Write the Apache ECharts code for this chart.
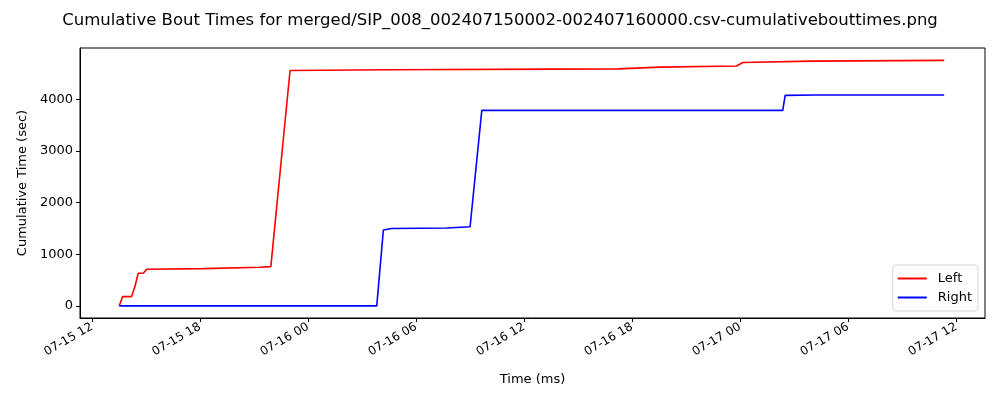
<!DOCTYPE html>
<html>
<head>
<meta charset="utf-8">
<script src="https://cdn.jsdelivr.net/npm/echarts@6/dist/echarts.min.js"></script>
<style>
    html, body { margin: 0; padding: 0; background: #fff; }
    #chart { width: 1000px; height: 400px; }
</style>
</head>
<body>
<div id="chart"></div>
<script>
// cumulative bout times
var leftTimes = ['2024-07-15 13:31', '2024-07-15 13:42', '2024-07-15 14:12', '2024-07-15 14:23', '2024-07-15 14:34',
    '2024-07-15 14:51', '2024-07-15 15:02', '2024-07-15 18:11', '2024-07-15 21:20', '2024-07-15 21:56',
    '2024-07-15 23:00', '2024-07-16 04:34', '2024-07-16 13:26', '2024-07-16 17:12', '2024-07-16 19:34',
    '2024-07-16 23:48', '2024-07-17 00:09', '2024-07-17 03:54', '2024-07-17 11:20'];
var leftValues = [0, 180, 180, 373, 632, 632, 709, 721, 747, 760,
    4560, 4575, 4585, 4590, 4625, 4645, 4715, 4740, 4755];

var rightTimes = ['2024-07-15 13:31', '2024-07-16 03:49', '2024-07-16 04:11', '2024-07-16 04:39', '2024-07-16 07:42',
    '2024-07-16 09:00', '2024-07-16 09:39', '2024-07-17 02:22', '2024-07-17 02:30', '2024-07-17 04:10',
    '2024-07-17 11:20'];
var rightValues = [0, 0, 1470, 1500, 1507, 1532, 3787, 3787, 4077, 4085, 4085];

var xTicks = ['2024-07-15 12:00', '2024-07-15 18:00', '2024-07-16 00:00', '2024-07-16 06:00', '2024-07-16 12:00',
    '2024-07-16 18:00', '2024-07-17 00:00', '2024-07-17 06:00', '2024-07-17 12:00'];
var xTickLabels = ['07-15 12', '07-15 18', '07-16 00', '07-16 06', '07-16 12',
    '07-16 18', '07-17 00', '07-17 06', '07-17 12'];
var yTicks = [0, 1000, 2000, 3000, 4000];

var FONT = 'DejaVu Sans';

function toMs(s) {
    return +echarts.time.parse(s);
}
function pairs(times, values) {
    var out = [];
    for (var i = 0; i < times.length; i++) {
        out.push([toMs(times[i]), values[i]]);
    }
    return out;
}

var tickMs = xTicks.map(toMs);
var labelMap = {};
tickMs.forEach(function (t, i) { labelMap[t] = xTickLabels[i]; });

var myChart = echarts.init(document.getElementById('chart'));
var option = {
    animation: false,
    backgroundColor: '#fff',
    textStyle: { fontFamily: FONT },
    title: {
        text: 'Cumulative Bout Times for merged/SIP_008_002407150002-002407160000.csv-cumulativebouttimes.png',
        left: 'center',
        top: 7,
        textStyle: { fontFamily: FONT, fontSize: 16.5, fontWeight: 'normal', color: '#000' }
    },
    grid: {
        left: 80, right: 15, top: 48, bottom: 82,
        show: true, borderColor: '#000', borderWidth: 1
    },
    legend: {
        orient: 'vertical',
        right: 22,
        bottom: 89,
        data: ['Left', 'Right'],
        icon: 'rect',
        itemWidth: 29,
        itemHeight: 2,
        itemGap: 6,
        padding: [7, 6, 7, 5],
        borderColor: '#d6d6d6',
        borderWidth: 1,
        borderRadius: 3,
        backgroundColor: 'rgba(255,255,255,0.8)',
        textStyle: { fontFamily: FONT, fontSize: 13, color: '#000', padding: [0, 0, 0, 6] }
    },
    xAxis: {
        type: 'value',
        min: toMs('2024-07-15 11:20'),
        max: toMs('2024-07-17 13:36'),
        name: 'Time (ms)',
        nameLocation: 'middle',
        nameGap: 55,
        nameTextStyle: { fontFamily: FONT, fontSize: 13, color: '#000' },
        splitLine: { show: false },
        axisLine: { show: true, onZero: false, lineStyle: { color: '#000', width: 1 } },
        axisTick: { show: true, length: 4, customValues: tickMs, lineStyle: { color: '#000' } },
        axisLabel: {
            customValues: tickMs,
            rotate: 30,
            fontFamily: FONT,
            fontSize: 12,
            color: '#000',
            margin: 8,
            formatter: function (v) { return labelMap[v] || ''; }
        }
    },
    yAxis: {
        type: 'value',
        min: -235,
        max: 4995,
        name: 'Cumulative Time (sec)',
        nameLocation: 'middle',
        nameGap: 48,
        nameTextStyle: { fontFamily: FONT, fontSize: 13, color: '#000' },
        splitLine: { show: false },
        axisLine: { show: true, lineStyle: { color: '#000', width: 1 } },
        axisTick: { show: true, length: 4, customValues: yTicks, lineStyle: { color: '#000' } },
        axisLabel: {
            customValues: yTicks,
            fontFamily: FONT,
            fontSize: 13,
            color: '#000',
            margin: 7,
            formatter: function (v) { return String(v); }
        }
    },
    series: [
        {
            name: 'Left',
            type: 'line',
            showSymbol: false,
            color: '#ff0000',
            lineStyle: { width: 1.6, color: '#ff0000' },
            data: pairs(leftTimes, leftValues)
        },
        {
            name: 'Right',
            type: 'line',
            showSymbol: false,
            color: '#0000ff',
            lineStyle: { width: 1.6, color: '#0000ff' },
            data: pairs(rightTimes, rightValues)
        }
    ]
};
myChart.setOption(option);
</script>
</body>
</html>
